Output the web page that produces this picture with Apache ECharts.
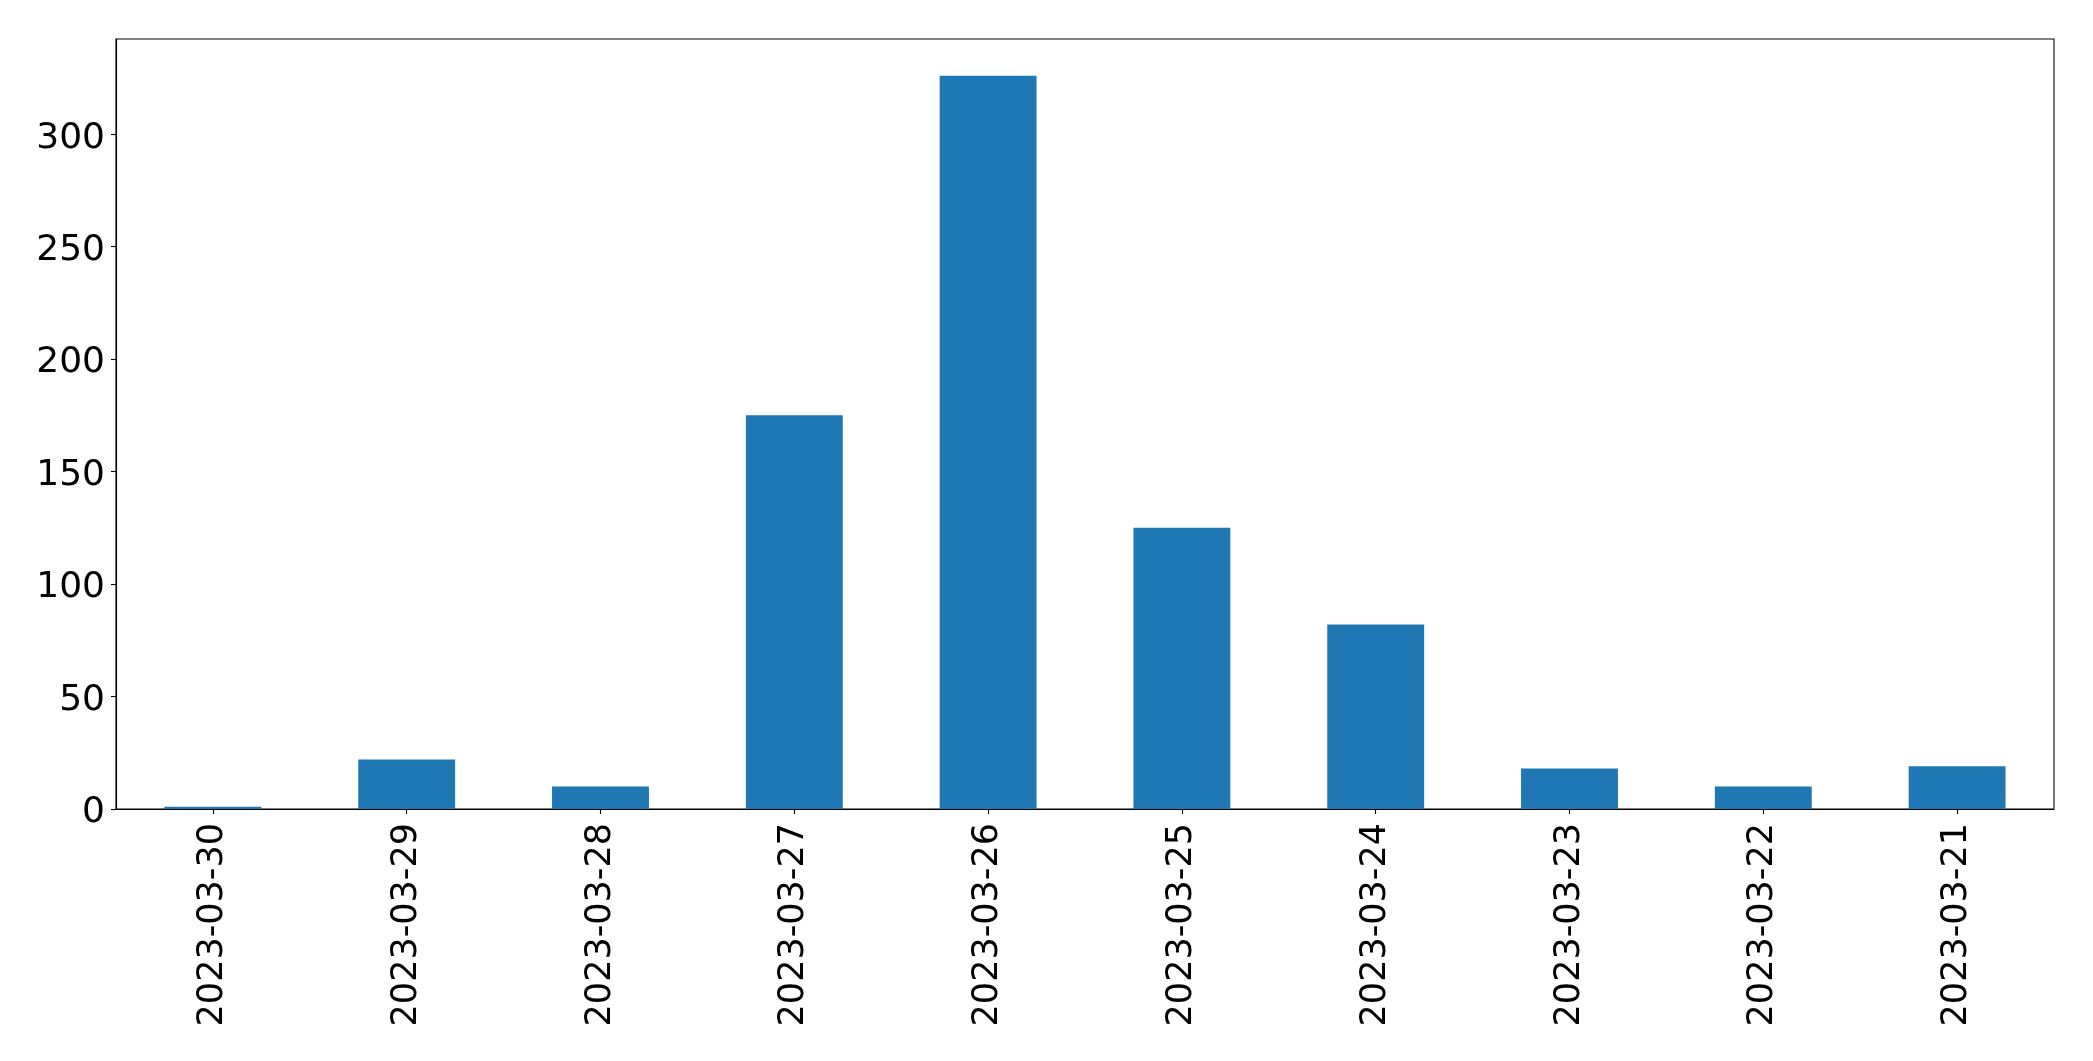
<!DOCTYPE html>
<html>
<head>
<meta charset="utf-8">
<script src="https://cdn.jsdelivr.net/npm/echarts@6/dist/echarts.min.js"></script>
<style>
html,body{margin:0;padding:0;background:#fff;}
#chart{width:2093px;height:1061px;}
</style>
</head>
<body>
<div id="chart"></div>
<script>
const categories = ['2023-03-30','2023-03-29','2023-03-28','2023-03-27','2023-03-26','2023-03-25','2023-03-24','2023-03-23','2023-03-22','2023-03-21'];
const values = [1, 22, 10, 175, 326, 125, 82, 18, 10, 19];
const yMax = 342.3;
const yInterval = 50;

const chart = echarts.init(document.getElementById('chart'), null, {renderer: 'canvas'});
const font = 'DejaVu Sans';
chart.setOption({
  animation: false,
  backgroundColor: '#ffffff',
  grid: {
    left: 116, right: 39, top: 39, bottom: 252,
    show: true, borderColor: '#000000', borderWidth: 1.1, containLabel: false
  },
  xAxis: {
    type: 'category',
    data: categories,
    boundaryGap: true,
    axisLine: {show: true, lineStyle: {color: '#000', width: 1.1}},
    axisTick: {show: true, alignWithLabel: true, length: 5, lineStyle: {color: '#000', width: 1.1}},
    axisLabel: {rotate: 90, margin: 14, fontSize: 35, fontFamily: font, color: '#000', interval: 0},
    splitLine: {show: false}
  },
  yAxis: {
    type: 'value',
    min: 0, max: yMax, interval: yInterval,
    axisLine: {show: true, lineStyle: {color: '#000', width: 1.1}},
    axisTick: {show: true, length: 5, lineStyle: {color: '#000', width: 1.1}},
    axisLabel: {margin: 11, fontSize: 36, fontFamily: font, color: '#000', showMaxLabel: false, verticalAlign: 'top', lineHeight: 8},
    splitLine: {show: false}
  },
  series: [{
    type: 'bar',
    data: values,
    barWidth: '50%',
    itemStyle: {color: '#1f77b4'}
  }]
});
</script>
</body>
</html>
